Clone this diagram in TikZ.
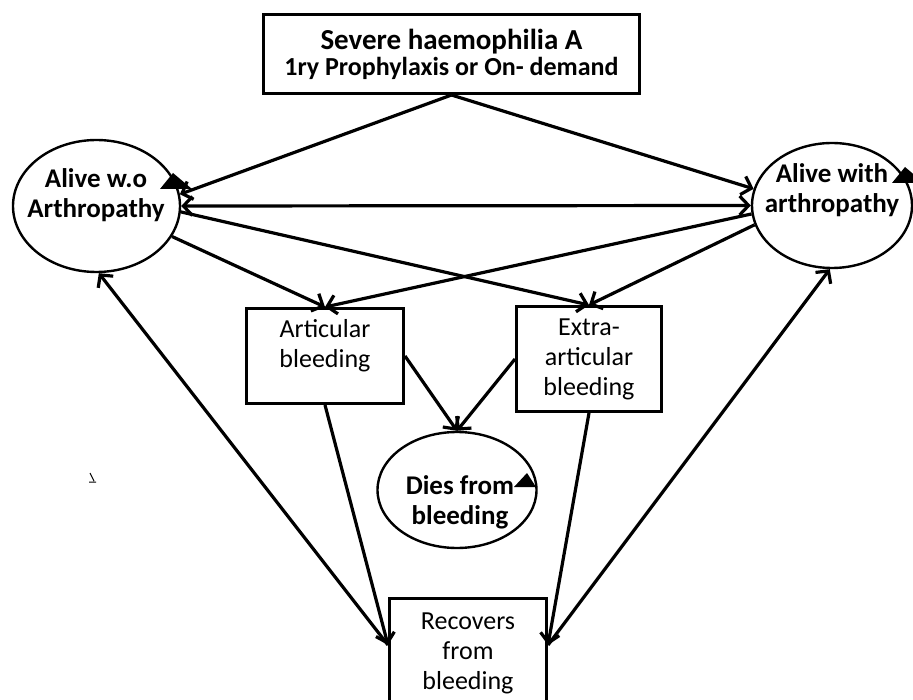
\documentclass[tikz,border=0pt]{standalone}
\usepackage{fontspec}
\setmainfont{Carlito}
\usetikzlibrary{arrows.meta,shapes.geometric}

\newcommand{\bodysize}{\fontsize{26}{30}\selectfont}

\begin{document}
\begin{tikzpicture}[x=1pt,y=-1pt,
    >={Straight Barb[length=9pt,width=19pt]},
    box/.style={draw, line width=3pt, inner sep=0pt, anchor=north west, align=center, font=\bodysize},
    state/.style={draw, ellipse, line width=2.4pt, inner sep=0pt},
    statetext/.style={align=center, font=\fontsize{27}{30}\selectfont\bfseries},
    link/.style={line width=3.2pt, ->}]
    \useasboundingbox (0,0) rectangle (913,700);

    % boxes
    \node[box, minimum width=376pt, minimum height=79pt] (sev) at (262,13)
        {{\fontsize{29}{32}\selectfont\bfseries Severe haemophilia A}\\[-4pt]
         {\fontsize{26}{28}\selectfont\bfseries 1ry Prophylaxis or On- demand}};
    \node[box, minimum width=157pt, minimum height=95pt, text depth=26pt] (art) at (245,307) {Articular\\bleeding};
    \node[box, minimum width=145pt, minimum height=105pt] (ext) at (515,305) {Extra-\\articular\\bleeding};
    \node[box, minimum width=157pt, minimum height=110pt] (rec) at (388,597) {Recovers\\from\\bleeding};

    % states
    \node[state, minimum width=167pt, minimum height=132pt] (woa) at (96.5,206) {};
    \node[state, minimum width=160pt, minimum height=125pt] (wa) at (832,205.5) {};
    \node[state, minimum width=159pt, minimum height=116pt] (dies) at (457,490) {};
    \node[statetext] (woatext) at (96,195) {Alive w.o\\Arthropathy};
    \node[statetext] (watext) at (832,190) {Alive with\\arthropathy};
    \node[statetext] (diestext) at (460,502) {Dies from\\bleeding};

    % self loops
    \fill (160,189) -- (192,189) -- (173,173) -- cycle;
    \fill (892,183) -- (924,183) -- (905,167) -- cycle;
    \fill (514,487) -- (536,487) -- (527,473) -- cycle;
    \draw[line width=1pt] (90,473) -- (94,481) (89,482) -- (96,482);

    % transitions
    \draw[link] (sev.south) -- (woa.8);
    \draw[link] (sev.south) -- (wa.168);
    \draw[link, <->] (woa.0) -- (wa.180);
    \draw[link] (woa.-22) -- (art.north);
    \draw[link] (woa.-4) -- (ext.north);
    \draw[link] (wa.186) -- (art.north);
    \draw[link] (wa.194) -- (ext.north);
    \draw[link] (art.east) -- (dies.north);
    \draw[link] (ext.west) -- (dies.north);
    \draw[link] (art.south) -- ([yshift=-48pt]rec.north west);
    \draw[link] (ext.south) -- ([yshift=-48pt]rec.north east);
    \draw[link] ([yshift=-48pt]rec.north west) -- (woa.-88);
    \draw[link] ([yshift=-48pt]rec.north east) -- (wa.-92);
\end{tikzpicture}
\end{document}
